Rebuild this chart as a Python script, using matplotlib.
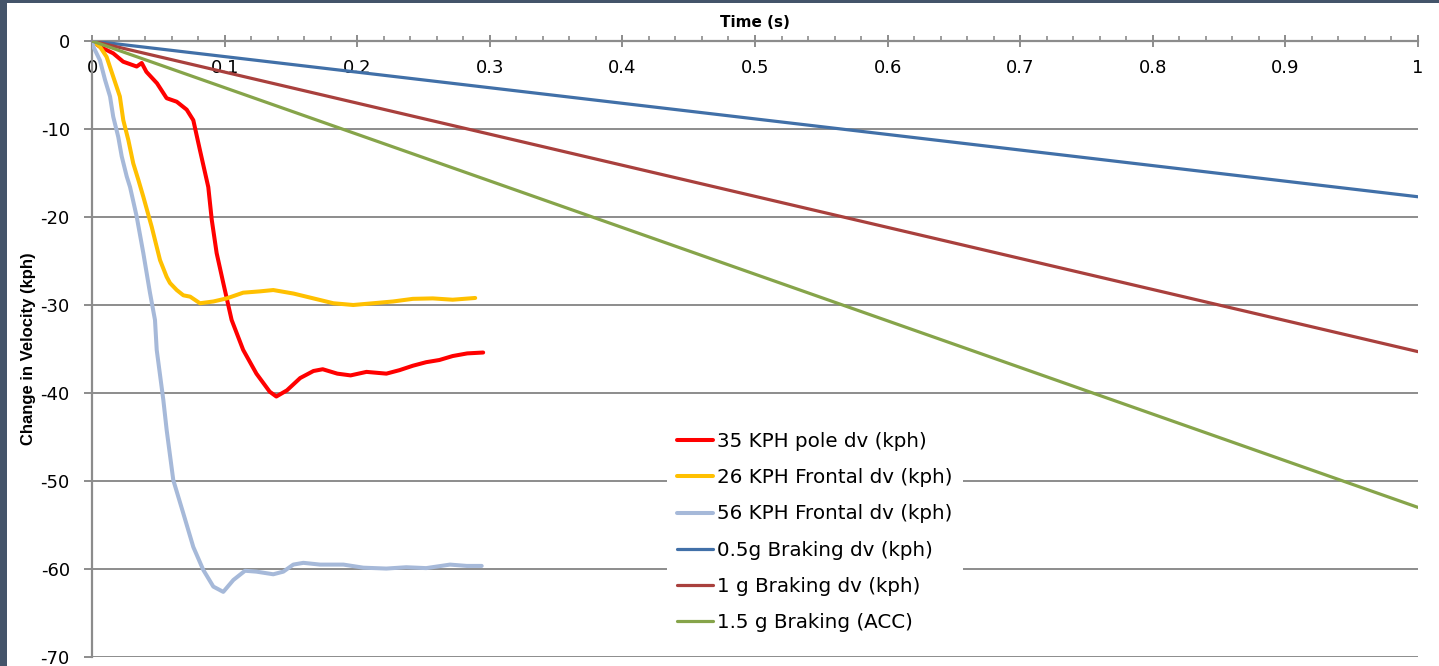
import matplotlib
matplotlib.use('Agg')
import matplotlib.pyplot as plt
from matplotlib.patches import Rectangle
import numpy as np

plt.rcParams['axes.unicode_minus']=False

## ------------------------------
## data
t_pole35=[0,0.006,0.016,0.0235,0.0337,0.0375,0.041,0.049,0.0563,0.0639,0.0714,0.0764,0.0814,0.0877,0.0903,0.094,0.099,0.1053,0.114,0.124,0.134,0.139,0.147,0.157,0.167,0.174,0.185,0.195,0.207,0.222,0.232,0.242,0.252,0.262,0.272,0.283,0.295]
dv_pole35=[0,-0.65,-1.4,-2.35,-2.9,-2.5,-3.5,-4.8,-6.5,-6.9,-7.8,-9.0,-12.4,-16.6,-20.3,-24.1,-27.5,-31.7,-35.1,-37.8,-39.85,-40.4,-39.7,-38.3,-37.5,-37.3,-37.8,-38.0,-37.6,-37.8,-37.4,-36.9,-36.5,-36.25,-35.8,-35.5,-35.4]

t_front26=[0,0.006,0.011,0.016,0.021,0.0236,0.0274,0.0311,0.035,0.0387,0.045,0.0513,0.0563,0.0588,0.0639,0.0689,0.074,0.0814,0.0915,0.1016,0.114,0.1267,0.1367,0.152,0.167,0.182,0.197,0.212,0.227,0.242,0.257,0.272,0.289]
dv_front26=[0,-0.65,-1.8,-4.05,-6.3,-9.0,-11.25,-13.9,-15.8,-17.7,-21.1,-24.9,-26.8,-27.5,-28.3,-28.9,-29.05,-29.8,-29.6,-29.25,-28.6,-28.45,-28.3,-28.7,-29.25,-29.8,-30.0,-29.8,-29.6,-29.3,-29.25,-29.4,-29.2]

t_front56=[0,0.001,0.006,0.0098,0.0136,0.016,0.0198,0.0224,0.0262,0.0287,0.0337,0.0387,0.0437,0.0475,0.0488,0.0538,0.0563,0.0613,0.0689,0.0764,0.0839,0.0915,0.099,0.1066,0.1154,0.124,0.1367,0.1443,0.1518,0.1594,0.172,0.1896,0.2046,0.222,0.237,0.252,0.27,0.2826,0.2939]
dv_front56=[0,-0.65,-2.2,-4.4,-6.3,-8.6,-10.9,-13.1,-15.4,-16.6,-19.95,-24.1,-28.6,-31.7,-35.1,-40.8,-44.2,-49.9,-53.7,-57.5,-60.1,-62.0,-62.6,-61.25,-60.2,-60.3,-60.6,-60.3,-59.5,-59.3,-59.5,-59.5,-59.85,-59.95,-59.8,-59.9,-59.5,-59.65,-59.65]

t_brake=[0,1]
dv_brake05=[0,-17.7]
dv_brake10=[0,-35.3]
dv_brake15=[0,-53.0]

labels=['35 KPH pole dv (kph)','26 KPH Frontal dv (kph)','56 KPH Frontal dv (kph)',
        '0.5g Braking dv (kph)','1 g Braking dv (kph)','1.5 g Braking (ACC)']
colors=['#ff0000','#ffc000','#a6b9d9','#4170a8','#a9403d','#86a44a']

xticks=[0,0.1,0.2,0.3,0.4,0.5,0.6,0.7,0.8,0.9,1]
xticklabels=['0','0.1','0.2','0.3','0.4','0.5','0.6','0.7','0.8','0.9','1']
yticks=[0,-10,-20,-30,-40,-50,-60,-70]

grey='#8c8c8c'

fig=plt.figure(figsize=(14.39,6.66),dpi=100)
# dark slide frame on the left and top edge
fig.patches.append(Rectangle((0,0),7/1439.,1,transform=fig.transFigure,facecolor='#44546a',edgecolor='none',zorder=0))
fig.patches.append(Rectangle((0,1-3/666.),1,3/666.,transform=fig.transFigure,facecolor='#44546a',edgecolor='none',zorder=0))

ax=fig.add_axes([92/1439.,1-657/666.,1326/1439.,616/666.])

series=[(t_pole35,dv_pole35,2.9),(t_front26,dv_front26,2.9),(t_front56,dv_front56,2.9),
        (t_brake,dv_brake05,2.3),(t_brake,dv_brake10,2.3),(t_brake,dv_brake15,2.3)]
for i,(xs,ys,lw) in enumerate(series):
	ax.plot(xs,ys,color=colors[i],lw=lw,label=labels[i],solid_capstyle='round',zorder=3)

ax.set_xlim(0,1)
ax.set_ylim(-70,0)

ax.spines['bottom'].set_visible(False)
ax.spines['right'].set_visible(False)
ax.spines['top'].set_color(grey)
ax.spines['left'].set_color(grey)
ax.spines['top'].set_linewidth(1.6)
ax.spines['left'].set_linewidth(1.6)

ax.xaxis.tick_top()
ax.set_xticks(xticks)
ax.set_xticklabels(xticklabels)
ax.set_xticks(np.arange(0,1.0001,0.02),minor=True)
ax.tick_params(axis='x',which='major',direction='inout',length=8,width=1.4,color=grey,
	pad=-30,labelsize=13,labelcolor='black')
ax.tick_params(axis='x',which='minor',direction='out',length=3.5,width=1.2,color=grey)
ax.set_yticks(yticks)
ax.tick_params(axis='y',which='major',direction='out',length=6,width=1.4,color=grey,
	pad=10,labelsize=13)

ax.yaxis.grid(True,color=grey,lw=1.4)
ax.set_axisbelow(True)

ax.xaxis.set_label_position('top')
ax.set_xlabel('Time (s)',fontsize=11,fontweight='bold',labelpad=3)
ax.set_ylabel('Change in Velocity (kph)',fontsize=12,fontweight='bold',
	family=['Liberation Sans Narrow','Liberation Sans','DejaVu Sans'])
ax.yaxis.set_label_coords(-0.042,0.5)

leg=ax.legend(loc='upper left',bbox_to_anchor=(0.426,0.397),frameon=True,fancybox=False,
	framealpha=1,facecolor='white',edgecolor='none',handlelength=1.85,handletextpad=0.2,
	labelspacing=0.86,borderpad=0.5,prop={'family':['DejaVu Sans'],'size':14.3})
leg.set_zorder(5)

plt.savefig('out.png',dpi=100)
print(" -- good termination --")
